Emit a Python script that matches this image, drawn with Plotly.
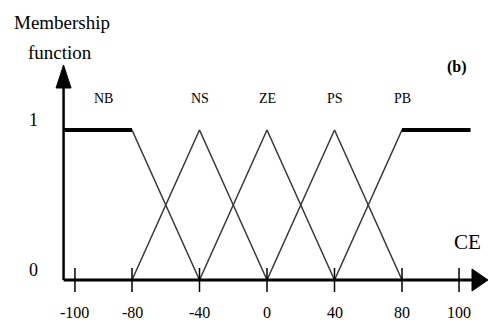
import plotly.graph_objects as go

# Fuzzy sets of the change-of-error (CE) input
set_names = ["NB", "NS", "ZE", "PS", "PB"]
set_x = [
    [-104, -80, -40],
    [-80, -40, 0],
    [-40, 0, 40],
    [0, 40, 80],
    [40, 80, 104],
]
set_y = [
    [1, 1, 0],
    [0, 1, 0],
    [0, 1, 0],
    [0, 1, 0],
    [0, 1, 1],
]
label_x = [-90, -40, 0, 40, 80]

tick_values = [-100, -80, -40, 0, 40, 80, 100]
tick_labels = ["-100", "-80", "-40", "0", "40", "80", "100"]
universe = (-104, 104)

# The outer ends of the axis (beyond +/-80) are drawn stretched
STRETCH = 1.69


def warp(v):
    if v < -80:
        return -80 + (v + 80) * STRETCH
    if v > 80:
        return 80 + (v - 80) * STRETCH
    return v


W, H = 489, 325
PX_X = 1.6875          # pixels per axis unit (x)
PX_Y = 150.0           # pixels per membership unit (y)
X0_PX, Y0_PX = 267, 280
x_range = [-X0_PX / PX_X, (W - X0_PX) / PX_X]
y_range = [-(H - Y0_PX) / PX_Y, Y0_PX / PX_Y]

serif = "Liberation Serif"
fig = go.Figure()

# membership functions
for xs, ys in zip(set_x, set_y):
    wx = [warp(v) for v in xs]
    fig.add_trace(go.Scatter(x=wx, y=ys, mode="lines",
                             line=dict(color="#383838", width=1.5),
                             hoverinfo="skip", showlegend=False))
    # flat shoulders drawn heavy
    for i in range(len(xs) - 1):
        if ys[i] == 1 and ys[i + 1] == 1:
            fig.add_trace(go.Scatter(x=[wx[i], wx[i + 1]], y=[1, 1], mode="lines",
                                     line=dict(color="black", width=4),
                                     hoverinfo="skip", showlegend=False))

ax_x = warp(universe[0])
x_tip = x_range[1] - 1 / PX_X
y_tip = (Y0_PX - 65) / PX_Y

# axes
fig.add_shape(type="line", x0=ax_x, x1=ax_x, y0=0, y1=y_tip - 0.05,
              line=dict(color="black", width=2.5))
fig.add_shape(type="line", x0=ax_x, x1=x_tip - 5, y0=0, y1=0,
              line=dict(color="black", width=3))
# arrowheads
hw_x = 7.5 / PX_X
base_y = (Y0_PX - 88) / PX_Y
fig.add_shape(type="path",
              path=f"M {ax_x - hw_x},{base_y} L {ax_x},{y_tip} L {ax_x + hw_x},{base_y} Z",
              fillcolor="black", line=dict(color="black", width=1))
hh_y = 11 / PX_Y
base_x = x_tip - 16 / PX_X
fig.add_shape(type="path",
              path=f"M {base_x},{-hh_y} L {x_tip},0 L {base_x},{hh_y} Z",
              fillcolor="black", line=dict(color="black", width=1))

# tick marks and labels
for v, t in zip(tick_values, tick_labels):
    fig.add_shape(type="line", x0=warp(v), x1=warp(v), y0=-0.08, y1=0.08,
                  line=dict(color="black", width=1.5))
    fig.add_annotation(x=warp(v), y=-(312 - Y0_PX) / PX_Y, text=t, showarrow=False,
                       font=dict(family=serif, size=16, color="black"))

# set names
for name, lx in zip(set_names, label_x):
    fig.add_annotation(x=warp(lx), y=(Y0_PX - 98) / PX_Y, text=name, showarrow=False,
                       font=dict(family=serif, size=14, color="black"))

# membership levels
for val, py in [(1, 120), (0, 270)]:
    fig.add_annotation(x=(33 - X0_PX) / PX_X, y=(Y0_PX - py) / PX_Y, text=str(val),
                       showarrow=False, font=dict(family=serif, size=18, color="black"))

fig.add_annotation(x=(62 - X0_PX) / PX_X, y=(Y0_PX - 22) / PX_Y, text="Membership",
                   showarrow=False, font=dict(family=serif, size=19, color="black"))
fig.add_annotation(x=(60 - X0_PX) / PX_X, y=(Y0_PX - 52) / PX_Y, text="function",
                   showarrow=False, font=dict(family=serif, size=19, color="black"))
fig.add_annotation(x=(467 - X0_PX) / PX_X, y=(Y0_PX - 242) / PX_Y, text="CE",
                   showarrow=False, font=dict(family=serif, size=21, color="black"))
fig.add_annotation(x=(457 - X0_PX) / PX_X, y=(Y0_PX - 67) / PX_Y, text="<b>(b)</b>",
                   showarrow=False, font=dict(family=serif, size=16, color="black"))

fig.update_layout(
    width=W, height=H,
    margin=dict(l=0, r=0, t=0, b=0),
    paper_bgcolor="white", plot_bgcolor="white",
    xaxis=dict(range=x_range, visible=False, fixedrange=True),
    yaxis=dict(range=y_range, visible=False, fixedrange=True),
    showlegend=False,
)

fig.write_html("out.html")
